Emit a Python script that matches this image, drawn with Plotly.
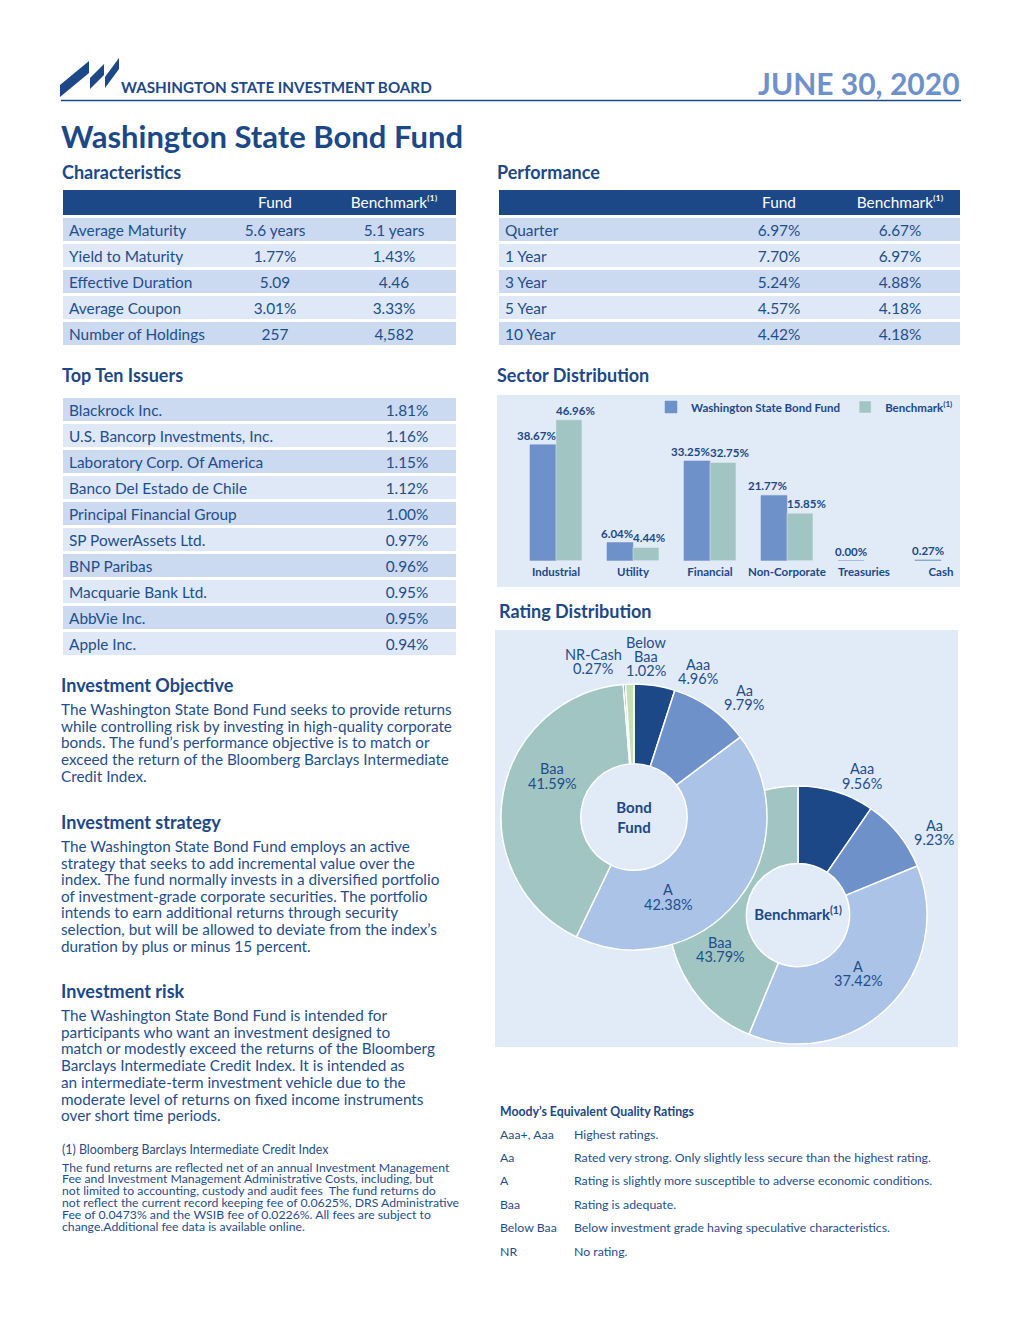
import plotly.graph_objects as go

W, H = 1020, 1320
FONT = "Lato"
NAVY = "#1c4888"
TXT = "#1f4e8c"
MID = "#6f91ca"
LIGHT = "#abc3e6"
TEAL = "#a0c5c3"
DTEAL = "#6a9f99"
LGREEN = "#c4e0b4"
ROW_D = "#cbdaf0"
ROW_L = "#dee8f6"
PANEL = "#e1eaf7"
CLEAR = "rgba(0,0,0,0)"


def X(px):
    return px / W


def Y(py):
    return 1 - py / H


# ---------------- data ----------------
char_labels = ["Average Maturity", "Yield to Maturity", "Effective Duration", "Average Coupon", "Number of Holdings"]
char_fund = ["5.6 years", "1.77%", "5.09", "3.01%", "257"]
char_bench = ["5.1 years", "1.43%", "4.46", "3.33%", "4,582"]

perf_labels = ["Quarter", "1 Year", "3 Year", "5 Year", "10 Year"]
perf_fund = [6.97, 7.70, 5.24, 4.57, 4.42]
perf_bench = [6.67, 6.97, 4.88, 4.18, 4.18]

issuers = ["Blackrock Inc.", "U.S. Bancorp Investments, Inc.", "Laboratory Corp. Of America",
           "Banco Del Estado de Chile", "Principal Financial Group", "SP PowerAssets Ltd.",
           "BNP Paribas", "Macquarie Bank Ltd.", "AbbVie Inc.", "Apple Inc."]
issuer_pct = [1.81, 1.16, 1.15, 1.12, 1.00, 0.97, 0.96, 0.95, 0.95, 0.94]

table_header = ["", "Fund", "Benchmark⁽¹⁾"]

sectors = ["Industrial", "Utility", "Financial", "Non-Corporate", "Treasuries", "Cash"]
sector_fund = [38.67, 6.04, 33.25, 21.77, 0.00, 0.27]
sector_bench = [46.96, 4.44, 32.75, 15.85, None, None]

fund_ratings = ["Aaa", "Aa", "A", "Baa", "NR-Cash", "Below Baa"]
fund_rating_pct = [4.96, 9.79, 42.38, 41.59, 0.27, 1.02]
bench_ratings = ["Aaa", "Aa", "A", "Baa"]
bench_rating_pct = [9.56, 9.23, 37.42, 43.79]

moody_codes = ["Aaa+, Aaa", "Aa", "A", "Baa", "Below Baa", "NR"]
moody_desc = ["Highest ratings.",
              "Rated very strong. Only slightly less secure than the highest rating.",
              "Rating is slightly more susceptible to adverse economic conditions.",
              "Rating is adequate.",
              "Below investment grade having speculative characteristics.",
              "No rating."]

objective_lines = ["The Washington State Bond Fund seeks to provide returns",
                   "while controlling risk by investing in high-quality corporate",
                   "bonds. The fund’s performance objective is to match or",
                   "exceed the return of the Bloomberg Barclays Intermediate",
                   "Credit Index."]
strategy_lines = ["The Washington State Bond Fund employs an active",
                  "strategy that seeks to add incremental value over the",
                  "index. The fund normally invests in a diversified portfolio",
                  "of investment-grade corporate securities. The portfolio",
                  "intends to earn additional returns through security",
                  "selection, but will be allowed to deviate from the index’s",
                  "duration by plus or minus 15 percent."]
risk_lines = ["The Washington State Bond Fund is intended for",
              "participants who want an investment designed to",
              "match or modestly exceed the returns of the Bloomberg",
              "Barclays Intermediate Credit Index. It is intended as",
              "an intermediate-term investment vehicle due to the",
              "moderate level of returns on fixed income instruments",
              "over short time periods."]
fee_lines = ["The fund returns are reflected net of an annual Investment Management",
             "Fee and Investment Management Administrative Costs, including, but",
             "not limited to accounting, custody and audit fees  The fund returns do",
             "not reflect the current record keeping fee of 0.0625%, DRS Administrative",
             "Fee of 0.0473% and the WSIB fee of 0.0226%. All fees are subject to",
             "change.Additional fee data is available online."]

fig = go.Figure()


# ---------------- tables ----------------
def row_colors(n):
    return [ROW_D if i % 2 == 0 else ROW_L for i in range(n)]


def add_table(x0, x1, y0, y1, header, columns, widths, aligns, header_h, header_fill):
    n = len(columns[0])
    dom = dict(x=[X(x0), X(x1)], y=[Y(y1), Y(y0)])
    # row backgrounds (one full-width column so only horizontal white gaps show)
    fig.add_trace(go.Table(
        domain=dom,
        header=dict(values=[""], height=header_h, fill_color=header_fill,
                    line=dict(color="white", width=3),
                    font=dict(family=FONT, size=15, color=CLEAR)),
        cells=dict(values=[[""] * n], height=26, fill_color=[row_colors(n)],
                   line=dict(color="white", width=3),
                   font=dict(family=FONT, size=15, color=CLEAR)),
    ))
    # text layer
    fig.add_trace(go.Table(
        domain=dom,
        columnwidth=widths,
        header=dict(values=header, height=header_h, fill_color=CLEAR,
                    line=dict(color=CLEAR, width=0), align=aligns,
                    font=dict(family=FONT, size=15.4, color="white")),
        cells=dict(values=columns, height=26, fill_color=CLEAR,
                   line=dict(color=CLEAR, width=0), align=aligns,
                   font=dict(family=FONT, size=15.4, color=TXT)),
    ))


add_table(61, 457, 188, 360, table_header,
          [char_labels, char_fund, char_bench], [158, 112, 126],
          ["left", "center", "center"], 28, NAVY)
add_table(497, 961, 188, 360, table_header,
          [perf_labels, [f"{v:.2f}%" for v in perf_fund], [f"{v:.2f}%" for v in perf_bench]],
          [222, 120, 122], ["left", "center", "center"], 28, NAVY)
add_table(61, 457, 394, 670, ["", ""],
          [issuers, [f"{v:.2f}%" for v in issuer_pct]], [296, 100],
          ["left", "center"], 2, "white")

# ---------------- sector distribution bars ----------------
fig.add_trace(go.Bar(
    x=sectors, y=sector_fund, name="Washington State Bond Fund",
    marker=dict(color=MID, line=dict(color=MID, width=0.5)),
    xaxis="x", yaxis="y", hoverinfo="x+y"))
fig.add_trace(go.Bar(
    x=sectors, y=sector_bench, name="Benchmark<sup>(1)</sup>",
    marker=dict(color=TEAL),
    xaxis="x", yaxis="y", hoverinfo="x+y"))

BAR_PX = 26  # width of one bar in pixels
ann = []
for s, f, b in zip(sectors, sector_fund, sector_bench):
    lab_font = dict(family=FONT, size=11.5, color=NAVY, weight="bold")
    if b is None:
        ann.append(dict(x=s, y=f, xref="x", yref="y", text=f"{f:.2f}%", showarrow=False,
                        xanchor="center", yanchor="bottom", xshift=-BAR_PX / 2, yshift=1,
                        font=lab_font))
    else:
        ann.append(dict(x=s, y=f, xref="x", yref="y", text=f"{f:.2f}%", showarrow=False,
                        xanchor="right", yanchor="bottom", xshift=2, yshift=1, font=lab_font))
        ann.append(dict(x=s, y=b, xref="x", yref="y", text=f"{b:.2f}%", showarrow=False,
                        xanchor="left", yanchor="bottom", xshift=-2, yshift=1, font=lab_font))

# ---------------- rating distribution pies ----------------
PIE_FONT = dict(family=FONT, size=14.5, color=TXT)
fig.add_trace(go.Pie(
    labels=bench_ratings, values=bench_rating_pct, sort=False, direction="clockwise",
    rotation=0, hole=0.4, showlegend=False, textinfo="none",
    domain=dict(x=[X(669), X(927)], y=[Y(1044), Y(786)]),
    marker=dict(colors=[NAVY, MID, LIGHT, TEAL], line=dict(color="white", width=1.5)),
    title=dict(text="<b>Benchmark<sup>(1)</sup></b>", position="middle center",
               font=dict(family=FONT, size=15, color=NAVY)),
    hoverinfo="label+value"))
fig.add_trace(go.Pie(
    labels=fund_ratings, values=fund_rating_pct, sort=False, direction="clockwise",
    rotation=0, hole=0.4, showlegend=False, textinfo="none",
    domain=dict(x=[X(501), X(767)], y=[Y(950), Y(684)]),
    marker=dict(colors=[NAVY, MID, LIGHT, TEAL, DTEAL, LGREEN], line=dict(color="white", width=1.5)),
    title=dict(text="<b>Bond<br>Fund</b>", position="middle center",
               font=dict(family=FONT, size=15, color=NAVY)),
    hoverinfo="label+value"))

# label anchor points (centre x, first-line y) as hand-placed in the reference
fund_label_pos = [(698, 664), (744, 690), (668, 890), (552, 769), (593, 654), (646, 642)]
bench_label_pos = [(862, 769), (934, 825), (858, 966), (720, 942)]


def pie_label(x, y, lines):
    for k, s in enumerate(lines):
        ann.append(dict(x=X(x), y=Y(y + k * 14.2), xref="paper", yref="paper", text=s,
                        showarrow=False, xanchor="center", yanchor="middle", font=PIE_FONT))


for lab, val, (px, py) in zip(fund_ratings, fund_rating_pct, fund_label_pos):
    lines = lab.split(" ") if lab.startswith("Below") else [lab]
    pie_label(px, py, lines + [f"{val:.2f}%"])
for lab, val, (px, py) in zip(bench_ratings, bench_rating_pct, bench_label_pos):
    pie_label(px, py, [lab, f"{val:.2f}%"])

# ---------------- shapes ----------------
shapes = [
    dict(type="rect", xref="paper", yref="paper", x0=X(497), x1=X(960), y0=Y(587), y1=Y(395),
         fillcolor=PANEL, line=dict(width=0), layer="below"),
    dict(type="rect", xref="paper", yref="paper", x0=X(495), x1=X(958), y0=Y(1047), y1=Y(630),
         fillcolor=PANEL, line=dict(width=0), layer="below"),
    dict(type="line", xref="paper", yref="paper", x0=X(61), x1=X(961), y0=Y(100.5), y1=Y(100.5),
         line=dict(color=NAVY, width=1.5)),
]


def poly(pts):
    d = "M " + " L ".join(f"{X(a):.5f},{Y(b):.5f}" for a, b in pts) + " Z"
    return dict(type="path", xref="paper", yref="paper", path=d,
                fillcolor=NAVY, line=dict(width=0))


shapes += [
    poly([(60, 97), (60, 85), (89, 61), (89, 73)]),
    poly([(90, 89), (90, 78), (104, 64), (104, 75)]),
    poly([(105, 88), (105, 77), (119, 58), (119, 69)]),
]


# ---------------- annotations ----------------
def text(x, y, s, size, color=TXT, bold=False, anchor="left"):
    ann.append(dict(x=X(x - 2 if anchor == "left" else x), y=Y(y), xref="paper", yref="paper",
                    text=s, showarrow=False, xanchor=anchor, yanchor="middle",
                    font=dict(family=FONT, size=size, color=color,
                              weight="bold" if bold else "normal")))


text(121, 87, "WASHINGTON STATE INVESTMENT BOARD", 15.2, NAVY, True)
text(962, 83, "JUNE 30, 2020", 30, MID, True, "right")
text(61, 136, "Washington State Bond Fund", 31, NAVY, True)
text(62, 172, "Characteristics", 18, NAVY, True)
text(497, 172, "Performance", 18, NAVY, True)
text(62, 375, "Top Ten Issuers", 18, NAVY, True)
text(497, 375, "Sector Distribution", 18, NAVY, True)
text(499, 611, "Rating Distribution", 18, NAVY, True)

text(61, 685, "Investment Objective", 18, NAVY, True)
for i, s in enumerate(objective_lines):
    text(61, 709 + i * 16.7, s, 15.3)
text(61, 822, "Investment strategy", 18, NAVY, True)
for i, s in enumerate(strategy_lines):
    text(61, 846 + i * 16.6, s, 15.3)
text(61, 991, "Investment risk", 18, NAVY, True)
for i, s in enumerate(risk_lines):
    text(61, 1015 + i * 16.7, s, 15.3)
text(62, 1149, "(1) Bloomberg Barclays Intermediate Credit Index", 12.4)
for i, s in enumerate(fee_lines):
    text(62, 1167 + i * 11.8, s, 12.25)

text(500, 1111, "Moody’s Equivalent Quality Ratings", 12.3, NAVY, True)
for i, (c, d) in enumerate(zip(moody_codes, moody_desc)):
    text(500, 1134 + i * 23.4, c, 12.3)
    text(574, 1134 + i * 23.4, d, 12.3)

fig.update_layout(
    width=W, height=H, margin=dict(l=0, r=0, t=0, b=0),
    paper_bgcolor="white", plot_bgcolor=CLEAR,
    barmode="group", bargap=0.325, bargroupgap=0.0,
    xaxis=dict(domain=[X(500), X(960)], range=[-0.727, 5.247], type="category",
               showgrid=False, zeroline=False, showline=False, ticks="",
               ticklabelstandoff=3,
               tickfont=dict(family=FONT, size=11.5, color=NAVY, weight="bold"),
               fixedrange=True),
    yaxis=dict(domain=[Y(560.7), Y(400)], range=[0, 53.57], visible=False, fixedrange=True),
    showlegend=True,
    legend=dict(orientation="h", x=X(958), xanchor="right", y=Y(407), yanchor="middle",
                bgcolor=CLEAR,
                font=dict(family=FONT, size=11.5, color=NAVY, weight="bold"),
                itemwidth=30, tracegroupgap=0),
    shapes=shapes, annotations=ann,
)

fig.write_html("out.html", config={"displayModeBar": False},
               post_script="document.body.style.margin='0';")
